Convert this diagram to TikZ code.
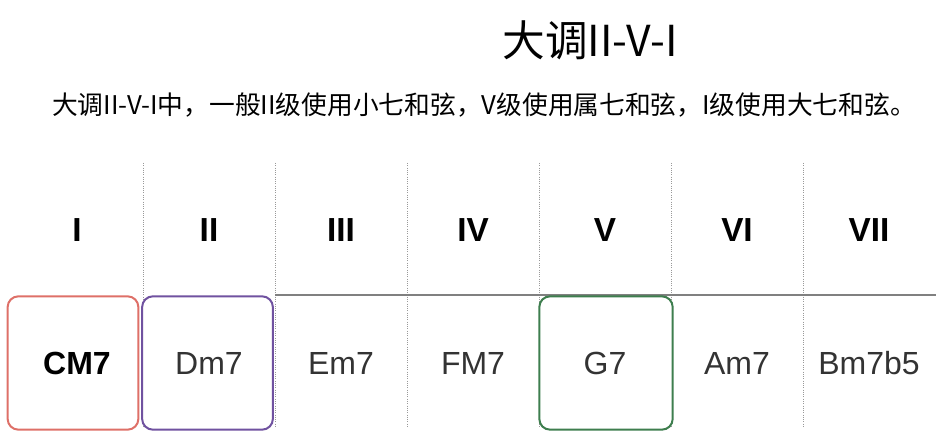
\documentclass[tikz,border=0pt]{standalone}
\usepackage{fontspec}
\setmainfont{Liberation Sans}
\newfontfamily\cjk{Noto Sans CJK SC}
\definecolor{tonic}{RGB}{222,112,104}
\definecolor{supertonic}{RGB}{112,82,160}
\definecolor{dominant}{RGB}{62,126,78}
\tikzset{
	degree/.style={font=\fontsize{25}{25}\selectfont\bfseries},
	chord/.style={font=\fontsize{24}{24}\selectfont, text=black!80},
	chordbox/.style={draw, fill=white, line width=1.5pt, rounded corners=8pt,
		minimum width=98pt, minimum height=100pt},
	sep/.style={gray!80, densely dotted, line width=.7pt},
}

\begin{document}
\begin{tikzpicture}[x=.75pt, y=-.75pt]
	\useasboundingbox (0,0) rectangle (945,441);
	\def\colw{132}

	% headings
	\node[font=\cjk\fontsize{32}{32}\selectfont] (title) at (590,40) {大调II-V-I};
	\node[font=\cjk\fontsize{19.3}{20}\selectfont] (intro) at (484,105)
		{大调II-V-I中，一般II级使用小七和弦，V级使用属七和弦，I级使用大七和弦。};

	% grid
	\foreach \k in {1,...,6}
		\draw[sep] ({11+\colw*\k},163) -- ({11+\colw*\k},428);
	\draw[gray, line width=1.1pt] (275,295) -- (936,295);

	% highlighted chords
	\node[chordbox, draw=tonic] (boxI) at (73,363) {};
	\node[chordbox, draw=supertonic] (boxII) at (207.5,363) {};
	\node[chordbox, draw=dominant, minimum width=100pt] (boxV) at (606,363) {};

	% degrees and chords
	\foreach \r/\c [count=\i] in {I/\textbf{\color{black}CM7}, II/Dm7, III/Em7, IV/FM7,
			V/G7, VI/Am7, VII/Bm7b5} {
		\node[degree] (deg\i) at ({77+\colw*(\i-1)},230) {\r};
		\node[chord] (chd\i) at ({77+\colw*(\i-1)},363) {\c};
	}
\end{tikzpicture}
\end{document}
